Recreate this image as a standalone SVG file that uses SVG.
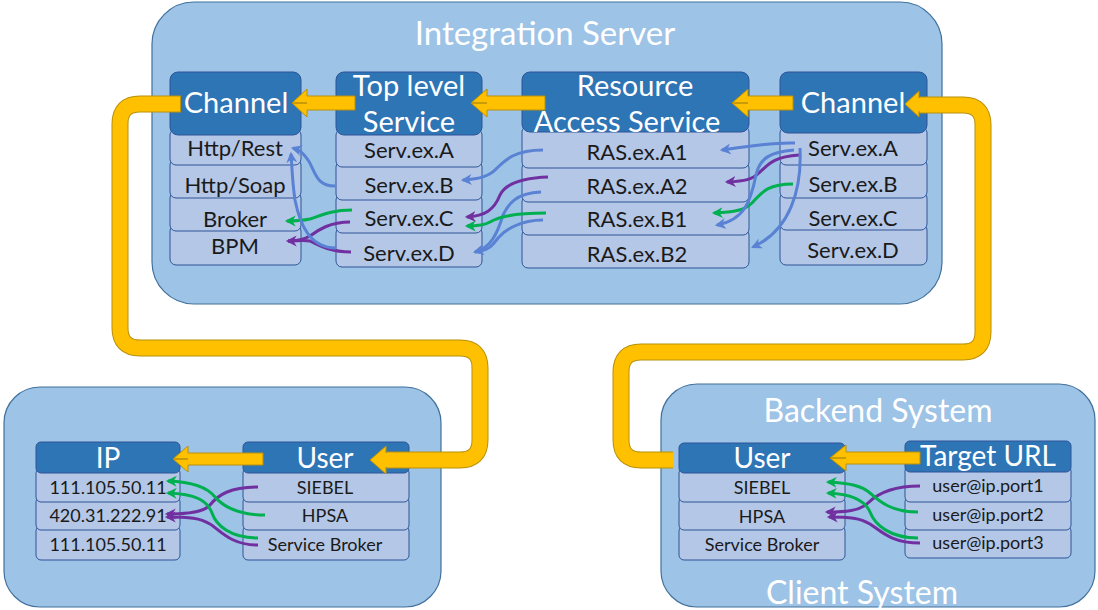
<svg xmlns="http://www.w3.org/2000/svg" width="1098" height="610" viewBox="0 0 1098 610">
  <style>
    .system { fill: #9DC3E6; stroke: #41719C; stroke-width: 1.2; }
    .hdr { fill: #2E75B6; stroke: #2F5597; stroke-width: 1; }
    .row { fill: #B4C7E7; stroke: #2F5597; stroke-width: 1; }
    .title { font-family: Lato, "Open Sans", sans-serif; fill: #FFFFFF; text-anchor: middle; }
    .htext { font-family: Lato, "Open Sans", sans-serif; font-size: 29px; fill: #FFFFFF; text-anchor: middle; }
    .htext-s { font-size: 28px; }
    .rtext { font-family: Lato, "Open Sans", sans-serif; font-size: 22px; fill: #1A1A1A; text-anchor: middle; }
    .stext { font-family: Lato, "Open Sans", sans-serif; font-size: 18px; fill: #1A1A1A; text-anchor: middle; }
    .flow { fill: #FFC000; stroke: #B8900A; stroke-width: 1; stroke-linejoin: miter; }
    .loop-edge { fill: none; stroke: #B8900A; stroke-width: 17; }
    .loop-core { fill: none; stroke: #FFC000; stroke-width: 15; }
    .blue { fill: none; stroke: #5A82D4; stroke-width: 3; marker-end: url(#mBlue); }
    .green { fill: none; stroke: #00B050; stroke-width: 3; marker-end: url(#mGreen); }
    .purple { fill: none; stroke: #7030A0; stroke-width: 3; marker-end: url(#mPurple); }
    .nomark { marker-end: none; }
  </style>
  <defs>
    <marker id="mBlue" markerUnits="userSpaceOnUse" markerWidth="12" markerHeight="12" refX="8" refY="5" orient="auto" viewBox="0 0 11 10">
      <path d="M0,0 L10,5 L0,10 L3,5 z" fill="#5A82D4"/>
    </marker>
    <marker id="mGreen" markerUnits="userSpaceOnUse" markerWidth="12" markerHeight="12" refX="8" refY="5" orient="auto" viewBox="0 0 11 10">
      <path d="M0,0 L10,5 L0,10 L3,5 z" fill="#00B050"/>
    </marker>
    <marker id="mPurple" markerUnits="userSpaceOnUse" markerWidth="12" markerHeight="12" refX="8" refY="5" orient="auto" viewBox="0 0 11 10">
      <path d="M0,0 L10,5 L0,10 L3,5 z" fill="#7030A0"/>
    </marker>
  </defs>

  <rect width="1098" height="610" fill="#FFFFFF"/>

  <!-- system containers -->
  <g id="integration-server">
    <rect class="system" x="152" y="2" width="790" height="302" rx="42"/>
    <text class="title" x="545" y="45" font-size="33">Integration Server</text>
  </g>
  <g id="left-system">
    <rect class="system" x="4" y="387" width="437" height="220" rx="36"/>
  </g>
  <g id="backend-system">
    <rect class="system" x="661" y="384" width="434" height="223" rx="36"/>
    <text class="title" x="878" y="422" font-size="32">Backend System</text>
    <text class="title" x="862" y="604" font-size="32">Client System</text>
  </g>

  <!-- Integration Server: left channel -->
  <g id="is-channel-out">
    <rect class="row" x="170" y="225" width="131" height="40" rx="6"/>
    <rect class="row" x="170" y="192" width="131" height="39" rx="6"/>
    <rect class="row" x="170" y="159" width="131" height="39" rx="6"/>
    <rect class="row" x="170" y="129" width="131" height="36" rx="6"/>
    <rect class="hdr" x="170" y="72" width="131" height="63" rx="8"/>
    <text class="htext" x="236" y="113">Channel</text>
    <text class="rtext" x="235" y="156">Http/Rest</text>
    <text class="rtext" x="235" y="193">Http/Soap</text>
    <text class="rtext" x="235" y="227">Broker</text>
    <text class="rtext" x="235" y="254">BPM</text>
  </g>

  <!-- Integration Server: top level service -->
  <g id="is-top-level">
    <rect class="row" x="336" y="227" width="146" height="40" rx="6"/>
    <rect class="row" x="336" y="194" width="146" height="39" rx="6"/>
    <rect class="row" x="336" y="161" width="146" height="39" rx="6"/>
    <rect class="row" x="336" y="129" width="146" height="38" rx="6"/>
    <rect class="hdr" x="336" y="72" width="146" height="63" rx="8"/>
    <text class="htext" x="409" y="96">Top level</text>
    <text class="htext" x="409" y="132">Service</text>
    <text class="rtext" x="409" y="158">Serv.ex.A</text>
    <text class="rtext" x="409" y="193">Serv.ex.B</text>
    <text class="rtext" x="409" y="226">Serv.ex.C</text>
    <text class="rtext" x="409" y="261">Serv.ex.D</text>
  </g>

  <!-- Integration Server: resource access service -->
  <g id="is-ras">
    <rect class="row" x="522" y="229" width="227" height="39" rx="6"/>
    <rect class="row" x="522" y="196" width="227" height="39" rx="6"/>
    <rect class="row" x="522" y="162" width="227" height="40" rx="6"/>
    <rect class="row" x="522" y="126" width="227" height="42" rx="6"/>
    <rect class="hdr" x="522" y="72" width="227" height="60" rx="8"/>
    <text class="htext" x="635" y="96">Resource</text>
    <text class="htext" x="627" y="132">Access Service</text>
    <text class="rtext" x="637" y="160">RAS.ex.A1</text>
    <text class="rtext" x="637" y="194">RAS.ex.A2</text>
    <text class="rtext" x="637" y="227">RAS.ex.B1</text>
    <text class="rtext" x="637" y="262">RAS.ex.B2</text>
  </g>

  <!-- Integration Server: right channel -->
  <g id="is-channel-in">
    <rect class="row" x="780" y="224" width="147" height="41" rx="6"/>
    <rect class="row" x="780" y="192" width="147" height="38" rx="6"/>
    <rect class="row" x="780" y="159" width="147" height="39" rx="6"/>
    <rect class="row" x="780" y="127" width="147" height="38" rx="6"/>
    <rect class="hdr" x="780" y="72" width="147" height="61" rx="8"/>
    <text class="htext" x="853" y="113">Channel</text>
    <text class="rtext" x="853" y="156">Serv.ex.A</text>
    <text class="rtext" x="853" y="192">Serv.ex.B</text>
    <text class="rtext" x="853" y="226">Serv.ex.C</text>
    <text class="rtext" x="853" y="258">Serv.ex.D</text>
  </g>

  <!-- left system: IP table -->
  <g id="ip-table">
    <rect class="row" x="36" y="526" width="144" height="34" rx="5"/>
    <rect class="row" x="36" y="497" width="144" height="33" rx="5"/>
    <rect class="row" x="36" y="468" width="144" height="34" rx="5"/>
    <rect class="hdr" x="36" y="442" width="144" height="31" rx="5"/>
    <text class="htext htext-s" x="108" y="468">IP</text>
    <text class="stext" x="108" y="494">111.105.50.11</text>
    <text class="stext" x="108" y="522">420.31.222.91</text>
    <text class="stext" x="108" y="551">111.105.50.11</text>
  </g>

  <!-- left system: user table -->
  <g id="user-table">
    <rect class="row" x="243" y="526" width="166" height="34" rx="5"/>
    <rect class="row" x="243" y="497" width="166" height="33" rx="5"/>
    <rect class="row" x="243" y="468" width="166" height="34" rx="5"/>
    <rect class="hdr" x="243" y="442" width="166" height="31" rx="5"/>
    <text class="htext htext-s" x="325" y="468">User</text>
    <text class="stext" x="325" y="494">SIEBEL</text>
    <text class="stext" x="325" y="522">HPSA</text>
    <text class="stext" x="325" y="551">Service Broker</text>
  </g>

  <!-- backend system: user table -->
  <g id="backend-user">
    <rect class="row" x="679" y="526" width="166" height="34" rx="5"/>
    <rect class="row" x="679" y="497" width="166" height="33" rx="5"/>
    <rect class="row" x="679" y="468" width="166" height="34" rx="5"/>
    <rect class="hdr" x="679" y="443" width="166" height="30" rx="5"/>
    <text class="htext htext-s" x="762" y="468">User</text>
    <text class="stext" x="762" y="494">SIEBEL</text>
    <text class="stext" x="762" y="523">HPSA</text>
    <text class="stext" x="762" y="551">Service Broker</text>
  </g>

  <!-- backend system: target URL table -->
  <g id="target-url">
    <rect class="row" x="905" y="526" width="166" height="32" rx="5"/>
    <rect class="row" x="905" y="497" width="166" height="33" rx="5"/>
    <rect class="row" x="905" y="466" width="166" height="36" rx="5"/>
    <rect class="hdr" x="905" y="441" width="166" height="31" rx="5"/>
    <text class="htext htext-s" x="988" y="466">Target URL</text>
    <text class="stext" x="988" y="492">user@ip.port1</text>
    <text class="stext" x="988" y="521">user@ip.port2</text>
    <text class="stext" x="988" y="549">user@ip.port3</text>
  </g>

  <!-- connectors -->
  <g id="connectors">
    <!-- main request path (yellow) -->
    <path class="loop-edge" d="M 673 460 H 641 Q 621 460 621 440 V 372 Q 621 352 641 352 H 963 Q 983 352 983 332 V 125 Q 983 105 963 105 H 920"/>
    <path class="loop-core" d="M 673 460 H 641 Q 621 460 621 440 V 372 Q 621 352 641 352 H 963 Q 983 352 983 332 V 125 Q 983 105 963 105 H 918"/>
    <path class="flow" d="M 919 98 L 919 91 L 905 104 L 919 117 L 919 111"/>

    <path class="loop-edge" d="M 181 104 H 140 Q 120 104 120 124 V 328 Q 120 348 140 348 H 460 Q 480 348 480 368 V 440 Q 480 460 460 460 H 387"/>
    <path class="loop-core" d="M 180 104 H 140 Q 120 104 120 124 V 328 Q 120 348 140 348 H 460 Q 480 348 480 368 V 440 Q 480 460 460 460 H 385"/>
    <path class="flow" d="M 386 453 L 386 446 L 370 460 L 386 474 L 386 467"/>

    <path class="flow" d="M 748 103 L 732 103 L 748 89 L 748 96 L 793 96 L 793 110 L 748 110 L 748 117 L 732 103 Z"/>
    <path class="flow" d="M 487 103 L 471 103 L 487 89 L 487 96 L 545 96 L 545 110 L 487 110 L 487 117 L 471 103 Z"/>
    <path class="flow" d="M 307 103 L 292 103 L 307 89 L 307 96 L 355 96 L 355 110 L 307 110 L 307 117 L 292 103 Z"/>
    <path class="flow" d="M 846 458 L 830 458 L 846 445 L 846 452 L 920 452 L 920 464 L 846 464 L 846 471 L 830 458 Z"/>
    <path class="flow" d="M 188 459 L 173 459 L 188 446 L 188 453 L 263 453 L 263 465 L 188 465 L 188 472 L 173 459 Z"/>

    <!-- right channel to resource access service -->
    <path class="blue" d="M 795 143 C 770 142, 745 147, 722 150"/>
    <path class="purple" d="M 799 155 C 772 157, 768 165, 760 172 C 752 180, 745 181, 727 182"/>
    <path class="green" d="M 793 184 C 765 184, 760 195, 752 203 C 745 210, 735 212, 714 213"/>
    <path class="blue" d="M 794 150 C 770 152, 760 158, 756 175 C 751 200, 745 220, 717 225"/>
    <path class="blue" d="M 800 148 C 802 190, 790 230, 753 247"/>

    <!-- resource access service to top level service -->
    <path class="blue" d="M 543 150 C 515 150, 505 160, 497 168 C 490 176, 480 179, 463 180"/>
    <path class="purple" d="M 548 177 C 520 178, 505 185, 500 195 C 494 210, 485 216, 467 217"/>
    <path class="blue nomark" d="M 543 220 C 520 220, 505 230, 498 238 C 492 246, 488 251, 475 252"/>
    <path class="blue" d="M 541 192 C 515 193, 508 205, 503 215 C 497 235, 490 248, 475 252"/>
    <path class="green" d="M 546 213 C 520 213, 500 216, 490 222 C 485 225, 480 226, 467 226"/>

    <!-- top level service to channel -->
    <path class="blue" d="M 335 186 C 315 186, 315 170, 308 160 C 303 153, 300 150, 293 148"/>
    <path class="green" d="M 352 210 C 330 210, 320 216, 310 219 C 300 221, 295 221, 287 221"/>
    <path class="purple nomark" d="M 351 252 C 330 252, 318 245, 310 241 C 303 240, 298 241, 288 241"/>
    <path class="purple" d="M 350 222 C 330 222, 318 230, 310 236 C 303 240, 298 241, 288 241"/>
    <path class="blue" d="M 336 248 C 310 248, 300 225, 295 200 C 292 180, 292 165, 291 154"/>

    <!-- user to IP -->
    <path class="purple" d="M 258 487 C 230 487, 218 495, 210 505 C 204 512, 190 514, 167 514"/>
    <path class="green" d="M 265 515 C 235 515, 222 505, 215 497 C 208 488, 195 482, 168 481"/>
    <path class="green" d="M 258 538 C 230 538, 216 525, 212 513 C 207 500, 195 494, 168 493"/>
    <path class="purple" d="M 258 545 C 230 545, 220 530, 210 524 C 200 518, 190 517, 167 517"/>

    <!-- target URL to backend user -->
    <path class="purple" d="M 920 486 C 890 486, 876 495, 868 503 C 860 511, 845 512, 827 512"/>
    <path class="green" d="M 918 512 C 890 512, 878 500, 870 493 C 862 486, 850 483, 828 482"/>
    <path class="green" d="M 918 538 C 890 538, 875 525, 870 512 C 865 500, 850 494, 828 493"/>
    <path class="purple" d="M 920 543 C 890 543, 880 530, 870 524 C 860 518, 850 517, 829 517"/>
  </g>
</svg>
